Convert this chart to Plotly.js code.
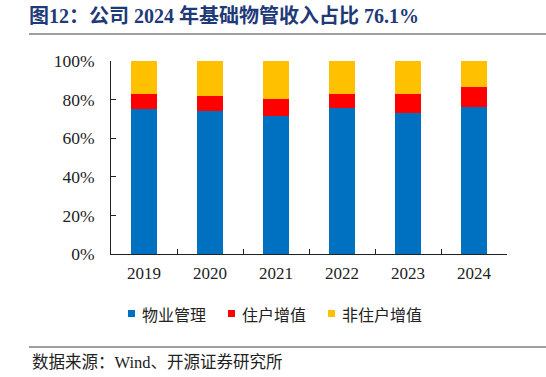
<!DOCTYPE html>
<html>
<head>
<meta charset="utf-8">
<script src="https://cdn.plot.ly/plotly-3.0.1.min.js"></script>
<style>html,body{margin:0;padding:0;background:#fff;}#chart{width:546px;height:377px;}</style>
</head>
<body>
<div id="chart"></div>
<script>
const years = ['2019', '2020', '2021', '2022', '2023', '2024'];
const seriesNames = ['物业管理', '住户增值', '非住户增值'];
const propertyMgmt = [75.0, 74.1, 71.7, 75.8, 73.1, 76.1];
const residentVAS = [8.1, 7.8, 8.6, 6.9, 10.0, 10.4];
const nonResidentVAS = [16.9, 18.1, 19.7, 17.3, 16.9, 13.5];
const yTickVals = [0, 20, 40, 60, 80, 100];
const yTickText = ['0%', '20%', '40%', '60%', '80%', '100%'];
const colors = ['#0070C0', '#FF0000', '#FFC000'];

const serif = '"Liberation Serif", "Times New Roman", "Noto Sans CJK SC", serif';
const cjk = '"Noto Sans CJK SC", sans-serif';

// pixel helpers for paper coords (plot area: x 111..507, y 61..254)
const px = x => (x - 111) / 396;
const py = y => (254 - y) / 193;

const allSeries = [propertyMgmt, residentVAS, nonResidentVAS];
const traces = allSeries.map((vals, i) => ({
  type: 'bar',
  name: seriesNames[i],
  x: years,
  y: vals,
  marker: {color: colors[i], line: {width: 0}},
  showlegend: false
}));

// custom legend (squares + labels) built from seriesNames/colors
const legendX = [128, 228, 328];
const legendShapes = seriesNames.map((n, i) => ({
  type: 'rect', xref: 'paper', yref: 'paper',
  x0: px(legendX[i]), x1: px(legendX[i] + 7),
  y0: py(317), y1: py(310),
  fillcolor: colors[i], line: {width: 0}
}));
const legendAnn = seriesNames.map((n, i) => ({
  text: n, xref: 'paper', yref: 'paper',
  x: px(legendX[i] + 12), y: py(314), xanchor: 'left', yanchor: 'middle',
  showarrow: false, font: {family: cjk, size: 16, color: '#222'}
}));

const layout = {
  width: 546,
  height: 377,
  margin: {l: 111, r: 39, t: 61, b: 123},
  paper_bgcolor: '#fff',
  plot_bgcolor: '#fff',
  barmode: 'stack',
  bargap: 0.606,
  showlegend: false,
  title: {
    text: '<b>图12：公司 2024 年基础物管收入占比 76.1%</b>',
    font: {family: '"Liberation Serif", "Noto Sans CJK SC", serif', size: 20, color: '#1F3A78'},
    x: 29 / 546, xanchor: 'left', xref: 'container',
    y: 1 - 16 / 377, yanchor: 'middle', yref: 'container'
  },
  xaxis: {
    type: 'category',
    showline: true, linecolor: '#222', linewidth: 1,
    ticks: 'inside', ticklen: 5, tickcolor: '#222', tickson: 'boundaries',
    tickfont: {family: serif, size: 17, color: '#222'},
    ticklabelstandoff: 4,
    showgrid: false, zeroline: false,
    fixedrange: true
  },
  yaxis: {
    range: [0, 100],
    tickvals: yTickVals, ticktext: yTickText,
    showline: true, linecolor: '#222', linewidth: 1,
    ticks: 'inside', ticklen: 5, tickcolor: '#222',
    tickfont: {family: serif, size: 17.5, color: '#222'},
    ticklabelstandoff: 12,
    showgrid: false, zeroline: false,
    fixedrange: true
  },
  shapes: [
    {type: 'line', xref: 'paper', yref: 'paper', x0: px(29), x1: px(546),
     y0: py(34), y1: py(34), line: {color: '#7F7F7F', width: 1.5}},
    {type: 'line', xref: 'paper', yref: 'paper', x0: px(29), x1: px(546),
     y0: py(347), y1: py(347), line: {color: '#7F7F7F', width: 1.5}}
  ].concat(legendShapes),
  annotations: [
    {text: '数据来源：Wind、开源证券研究所', xref: 'paper', yref: 'paper',
     x: px(30), y: py(362), xanchor: 'left', yanchor: 'middle',
     showarrow: false, font: {family: '"Liberation Serif", "Noto Sans CJK SC", serif', size: 16.5, color: '#222'}}
  ].concat(legendAnn)
};

Plotly.newPlot('chart', traces, layout, {displayModeBar: false, staticPlot: true});
</script>
</body>
</html>
